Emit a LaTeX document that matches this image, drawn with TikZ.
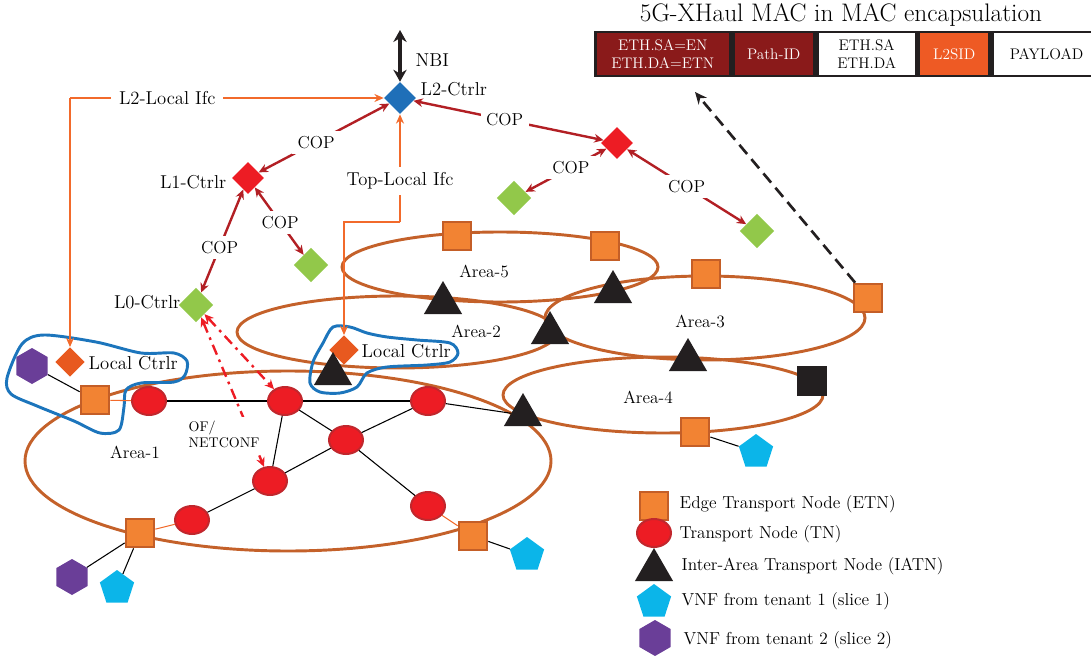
\documentclass[tikz,border=0pt]{standalone}
\usepackage{amsmath}
\usepackage{tikz}
\usetikzlibrary{shapes.geometric,arrows.meta}

\definecolor{etnfill}{HTML}{F28333}
\definecolor{etnline}{HTML}{C45E27}
\definecolor{arealine}{HTML}{C4612A}
\definecolor{tnfill}{HTML}{ED1C24}
\definecolor{tnline}{HTML}{C1272D}
\definecolor{nodeblack}{HTML}{231F20}
\definecolor{copred}{HTML}{B21F24}
\definecolor{ifcorange}{HTML}{F26A2B}
\definecolor{ctrlblue}{HTML}{1F6FB8}
\definecolor{ctrlgreen}{HTML}{92C84A}
\definecolor{localorange}{HTML}{E8591F}
\definecolor{outlineblue}{HTML}{1C75BC}
\definecolor{tenantone}{HTML}{0BB5E9}
\definecolor{tenanttwo}{HTML}{6A3E98}
\definecolor{hdrred}{HTML}{8A1A1A}
\definecolor{sidorange}{HTML}{EE5A24}

\begin{document}
\begin{tikzpicture}[x=0.75pt, y=-0.75pt,
    every node/.style={font=\fontsize{13}{15}\selectfont},
    lab/.style={font=\fontsize{14}{16}\selectfont},
    area/.style={draw=arealine, line width=2.2pt},
    etn/.style={rectangle, draw=etnline, fill=etnfill, line width=2pt, minimum size=21pt, inner sep=0pt},
    blk/.style={rectangle, draw=nodeblack, fill=nodeblack, line width=1pt, minimum size=21pt, inner sep=0pt},
    tn/.style={ellipse, draw=tnline, fill=tnfill, line width=1.5pt, minimum width=25.5pt, minimum height=21pt, inner sep=0pt},
    iatn/.style={regular polygon, regular polygon sides=3, fill=nodeblack, minimum size=33pt, inner sep=0pt},
    vnfa/.style={regular polygon, regular polygon sides=5, fill=tenantone, minimum size=27pt, inner sep=0pt},
    vnfb/.style={regular polygon, regular polygon sides=6, shape border rotate=30, fill=tenanttwo, minimum size=27pt, inner sep=0pt},
    ctrl/.style={diamond, minimum size=24pt, inner sep=0pt},
    cop/.style={draw=copred, line width=1.8pt, {Stealth[length=7pt,width=6.5pt]}-{Stealth[length=7pt,width=6.5pt]}},
    copl/.style={fill=white, inner sep=4pt},
    ifc/.style={draw=ifcorange, line width=1.6pt, -{Stealth[length=7pt,width=6pt]}},
    ofl/.style={draw=tnfill, line width=1.8pt, dash pattern=on 8pt off 4pt on 2pt off 4pt, {Stealth[length=7pt,width=6.5pt]}-{Stealth[length=7pt,width=6.5pt]}},
    link/.style={draw=black, line width=0.8pt},
    olink/.style={draw=ifcorange, line width=0.8pt},
    outline/.style={draw=outlineblue, line width=2.2pt},
    hdrarrow/.style={draw=nodeblack, line width=2pt, dash pattern=on 9pt off 5pt, -{Stealth[length=9pt,width=8pt]}},
    nbiarrow/.style={draw=nodeblack, line width=2.5pt, {Stealth[length=9pt,width=10pt]}-{Stealth[length=9pt,width=10pt]}},
    hdr/.style={draw=nodeblack, line width=2.2pt, minimum height=33pt, inner sep=0pt, align=center, anchor=west, font=\fontsize{11.5}{13}\selectfont},
  ]
  \useasboundingbox (0,0) rectangle (1091,656);

  % header
  \node[font=\fontsize{19}{22}\selectfont] (title) at (841,15) {5G-XHaul MAC in MAC encapsulation};
  \node[hdr, fill=hdrred, text=white, minimum width=101pt] (hb1) at (594,54) {ETH.SA=EN\\ETH.DA=ETN};
  \node[hdr, fill=hdrred, text=white, minimum width=61pt] (hb2) at (hb1.east) {Path-ID};
  \node[hdr, fill=white, minimum width=74pt] (hb3) at (hb2.east) {ETH.SA\\ETH.DA};
  \node[hdr, fill=sidorange, text=white, minimum width=53pt] (hb4) at (hb3.east) {L2SID};
  \node[hdr, fill=white, minimum width=81pt] (hb5) at (hb4.east) {PAYLOAD};

  % areas
  \draw[area] (288,461) ellipse [x radius=263, y radius=90];
  \draw[area] (397,332) ellipse [x radius=160, y radius=36];
  \draw[area] (500,267) ellipse [x radius=158, y radius=35];
  \draw[area] (705,318) ellipse [x radius=160, y radius=42];
  \draw[area] (663,395) ellipse [x radius=160, y radius=38];
  \node (ar1) at (135,452) {Area-1};
  \node (ar2) at (476,331) {Area-2};
  \node (ar3) at (700,321) {Area-3};
  \node (ar4) at (648,397) {Area-4};
  \node (ar5) at (484,271) {Area-5};

  \draw[outline] plot[smooth cycle] coordinates {(7,378) (22,344) (44,335) (96,342) (141,353) (174,353) (187,361) (185,375) (174,382) (141,383) (126,390) (124,407) (119,430) (100,433) (74,421) (37,406) (11,394)};
  \draw[outline] plot[smooth cycle] coordinates {(333,327) (350,327) (367,333) (387,337) (417,340) (450,343) (458,353) (450,362) (427,365) (387,367) (367,373) (357,387) (340,393) (320,392) (310,383) (313,362) (323,343)};

  % controllers
  \node[ctrl, fill=ctrlblue] (l2) at (400,98) {};
  \node[lab, anchor=west] (l2lab) at (416,89) {L2-Ctrlr};
  \coordinate (nbitop) at (400,30);
  \node[lab, anchor=west] (nbilab) at (411,60) {NBI};
  \node[ctrl, fill=tnfill] (l1) at (248,178) {};
  \node[lab, anchor=east] (l1lab) at (231,182) {L1-Ctrlr};
  \node[ctrl, fill=tnfill] (r1) at (617,143) {};
  \node[ctrl, fill=ctrlgreen, minimum size=26pt] (l0) at (196,305) {};
  \node[lab, anchor=east] (l0lab) at (185,302) {L0-Ctrlr};
  \node[ctrl, fill=ctrlgreen, minimum size=26pt] (g1) at (514,198) {};
  \node[ctrl, fill=ctrlgreen, minimum size=26pt] (g2) at (757,231) {};
  \node[ctrl, fill=ctrlgreen, minimum size=26pt] (g3) at (311,265) {};
  \node[ctrl, fill=localorange, minimum size=22pt] (lc1) at (70,362) {};
  \node[lab, anchor=west] (lc1lab) at (84,363) {Local Ctrlr};
  \node[ctrl, fill=localorange, minimum size=22pt] (lc2) at (344,350) {};
  \node[lab, anchor=west] (lc2lab) at (357,351) {Local Ctrlr};

  % transport nodes
  \node[etn] (e1) at (95,400) {};
  \node[etn] (e2) at (140,533) {};
  \node[etn] (e3) at (473,536) {};
  \node[etn] (e4) at (457,236) {};
  \node[etn] (e5) at (605,246) {};
  \node[etn] (e6) at (706,274) {};
  \node[etn] (e7) at (868,298) {};
  \node[etn] (e8) at (695,432) {};
  \node[blk] (bq) at (812,381) {};
  \node[tn] (t1) at (149,401) {};
  \node[tn] (t2) at (285,401) {};
  \node[tn] (t3) at (428,401) {};
  \node[tn] (t4) at (346,440) {};
  \node[tn] (t5) at (270,481) {};
  \node[tn] (t6) at (192,520) {};
  \node[tn] (t7) at (428,506) {};
  \node[iatn] (a1) at (443,303) {};
  \node[iatn] (a2) at (613,292) {};
  \node[iatn] (a3) at (550,333) {};
  \node[iatn] (a4) at (688,360) {};
  \node[iatn] (a5) at (523,415) {};
  \node[iatn] (a6) at (333,374) {};
  \node[vnfb] (h1) at (32,366) {};
  \node[vnfb] (h2) at (72,577) {};
  \node[vnfa] (p1) at (117,588) {};
  \node[vnfa] (p2) at (527,555) {};
  \node[vnfa] (p3) at (756,452) {};

  \draw[link] (t1) -- (t2);
  \draw[link] (t2) -- (t3);
  \draw[link] (t3) -- (a5);
  \draw[link] (t2) -- (t4);
  \draw[link] (t2) -- (t5);
  \draw[link] (t3) -- (t4);
  \draw[link] (t4) -- (t5);
  \draw[link] (t5) -- (t6);
  \draw[link] (t4) -- (t7);
  \draw[olink] (e1) -- (t1);
  \draw[olink] (e2) -- (t6);
  \draw[olink] (e3) -- (t7);
  \draw[link] (h1) -- (e1);
  \draw[link] (e2) -- (h2);
  \draw[link] (e2) -- (p1);
  \draw[link] (e3) -- (p2);
  \draw[link] (e8) -- (p3);

  % control connections
  \draw[nbiarrow] (nbitop) -- (l2);
  \coordinate (lbend) at (70,98);
  \draw[ifc] (lbend) -- node[lab, pos=0.31, fill=white, inner sep=6pt] (l2ifc) {L2-Local Ifc} (l2);
  \draw[ifc] (lbend) -- (lc1);
  \coordinate (tbend) at (400,222);
  \draw[ifc] (tbend) -- node[lab, pos=0.38, fill=white, inner sep=4pt] (topifc) {Top-Local Ifc} (l2);
  \draw[ifc] (tbend) -| (lc2);
  \draw[cop] (l2) -- node[copl, pos=0.56] (cop1) {COP} (l1);
  \draw[cop] (l2) -- node[copl, pos=0.48] (cop2) {COP} (r1);
  \draw[cop] (r1) -- node[copl, pos=0.44] (cop3) {COP} (g1);
  \draw[cop] (r1) -- node[copl, pos=0.5] (cop4) {COP} (g2);
  \draw[cop] (l1) -- node[copl, pos=0.56] (cop5) {COP} (l0);
  \draw[cop] (l1) -- node[copl, pos=0.52] (cop6) {COP} (g3);
  \draw[ofl] (l0) -- (t2);
  \draw[ofl] (l0) -- (t5);
  \node[fill=white, align=left, inner sep=3pt, font=\fontsize{10.5}{12}\selectfont] (ofnc) at (224,434) {OF/\\NETCONF};
  \coordinate (hdrpt) at (695,92);
  \draw[hdrarrow] (e7) -- (hdrpt);

  % legend
  \node[etn] (lg1) at (654,506) {};
  \node[anchor=west] (lg1t) at (675,504) {Edge Transport Node (ETN)};
  \node[tn] (lg2) at (654,533) {};
  \node[anchor=west] (lg2t) at (675,534) {Transport Node (TN)};
  \node[iatn] (lg3) at (654,570) {};
  \node[anchor=west] (lg3t) at (677,566) {Inter-Area Transport Node (IATN)};
  \node[vnfa] (lg4) at (654,602) {};
  \node[anchor=west] (lg4t) at (677,601) {VNF from tenant 1 (slice 1)};
  \node[vnfb] (lg5) at (655,638) {};
  \node[anchor=west] (lg5t) at (679,640) {VNF from tenant 2 (slice 2)};
\end{tikzpicture}
\end{document}
